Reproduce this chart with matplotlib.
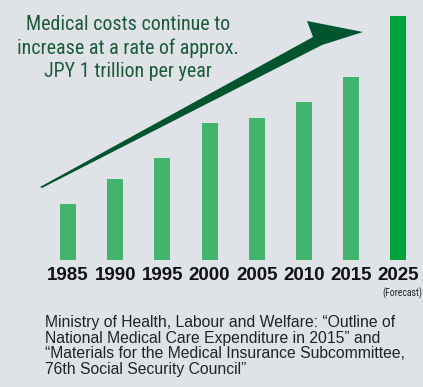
import numpy as np
import matplotlib
matplotlib.use("Agg")
import matplotlib.pyplot as plt
from matplotlib.patches import Polygon

# bar heights (relative units, baseline = 0)
years = ["1985", "1990", "1995", "2000", "2005", "2010", "2015", "2025"]
costs = [56, 81, 102, 137, 142, 158, 183, 244]
bar_colors = ["#43b46d"] * 7 + ["#00a23c"]

title_lines = "Medical costs continue to\nincrease at a rate of approx.\nJPY 1 trillion per year"
source_note = ("Ministry of Health, Labour and Welfare: \u201cOutline of\n"
               "National Medical Care Expenditure in 2015\u201d and\n"
               "\u201cMaterials for the Medical Insurance Subcommittee,\n"
               "76th Social Security Council\u201d")

W, H = 423, 387
bg = "#dfe3e8"
fig = plt.figure(figsize=(W / 100, H / 100), dpi=100, facecolor=bg)
narrow = ["Roboto Condensed", "Liberation Sans Narrow", "Roboto", "DejaVu Sans"]
sans = ["Liberation Sans", "DejaVu Sans"]

## bar area
ax = fig.add_axes([44.4 / W, (H - 260) / H, 377.6 / W, 250 / H])
ax.set_facecolor("none")
x = np.arange(len(years))
ax.bar(x, costs, width=0.34, color=bar_colors)
ax.set_xlim(-0.5, 7.5)
ax.set_ylim(0, 250)
ax.set_xticks(x)
ax.set_xticklabels(years, fontsize=13.5, fontweight="bold", color="#111111", family=sans)
ax.tick_params(axis="x", length=0, pad=5)
ax.set_yticks([])
for s in ax.spines.values():
    s.set_visible(False)

## "(Forecast)" under last label
fig.text(422 / W, 1 - 293 / H, "(Forecast)", fontsize=7, color="#222222",
         ha="right", va="center", family=narrow)

## rising arrow (figure pixel coords)
pts = [(40, 187), (313, 37), (307, 21), (363, 32), (322, 45), (42, 188)]
arrow = Polygon([(px / W, 1 - py / H) for px, py in pts], closed=True,
                transform=fig.transFigure, facecolor="#00552e", edgecolor="none")
fig.add_artist(arrow)

## headline
t_title = fig.text(128 / W, 1 - 48 / H, title_lines, fontsize=14, color="#1d5a3a",
                   ha="center", va="center", linespacing=1.3, family=narrow)

## source note
t_src = fig.text(45 / W, 1 - 346 / H, source_note, fontsize=11.5, color="#222222",
                 ha="left", va="center", linespacing=1.05, family=sans)

# fit text widths to the reference (title ~223 px, note ~362 px wide)
r = fig.canvas.get_renderer()
for t, target in [(t_title, 223), (t_src, 362)]:
    w = t.get_window_extent(r).width
    t.set_fontsize(t.get_fontsize() * target / w)

fig.savefig("out.png", dpi=100, facecolor=bg)
